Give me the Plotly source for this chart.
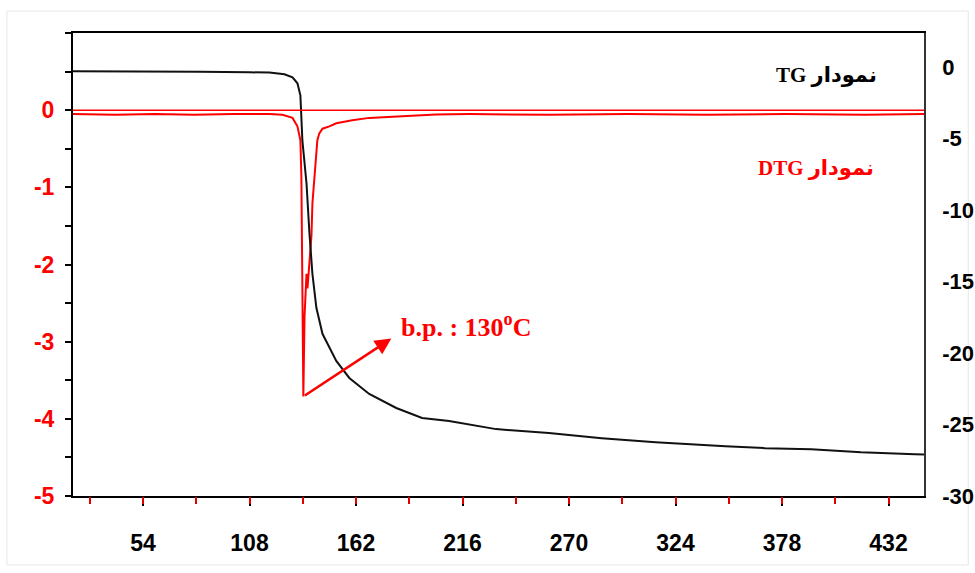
import plotly.graph_objects as go

# ---------------- data ----------------
# TG curve (mass change, right axis)
tg_temp = [18.5, 57.4, 82.7, 108.0, 118.1, 125.7, 129.8, 132.3, 133.8, 134.8, 136.9,
           138.4, 139.9, 141.9, 145.0, 152.0, 158.6, 168.7, 182.4, 195.5, 209.2,
           233.0, 259.8, 286.6, 313.9, 349.3, 369.5, 392.8, 418.1, 445.4, 450.0]
tg_val = [-0.28, -0.28, -0.32, -0.35, -0.37, -0.49, -0.70, -1.12, -1.96, -5.12, -8.13,
          -11.64, -14.45, -16.83, -18.65, -20.55, -21.74, -22.86, -23.84, -24.54, -24.75,
          -25.32, -25.60, -25.95, -26.23, -26.51, -26.65, -26.72, -26.93, -27.07, -27.10]

# DTG curve (left axis)
dtg_temp = [18.5, 40, 60, 80, 100, 118.1, 124.7, 129.8, 132.3, 133.8, 134.3, 134.5,
            134.8, 135.0, 135.3, 135.9, 136.4, 136.9, 137.4, 138.4, 139.4, 139.9,
            140.9, 141.9, 142.4, 143.4, 145.0, 148.5, 152.0, 160.1, 168.7, 185.4,
            202.6, 219.3, 260, 300, 340, 380, 420, 450]
dtg_val = [-0.05, -0.06, -0.05, -0.06, -0.05, -0.05, -0.06, -0.10, -0.21, -0.39, -0.86, -1.73,
           -2.67, -3.45, -3.71, -2.67, -2.37, -2.12, -2.31, -1.95, -1.63, -1.21,
           -0.86, -0.56, -0.39, -0.30, -0.24, -0.21, -0.17, -0.13, -0.10, -0.08,
           -0.055, -0.05, -0.06, -0.05, -0.06, -0.05, -0.06, -0.05]

# straight reference line of DTG
base_temp = [18.5, 450.0]
base_val = [0.0, 0.0]

x_major = [54, 108, 162, 216, 270, 324, 378, 432]
left_ticks = [0, -1, -2, -3, -4, -5]
left_text = ["0", "-1", "-2", "-3", "-4", "-5"]
right_ticks = [0, -5, -10, -15, -20, -25, -30]
right_text = ["0", "-5", "-10", "-15", "-20", "-25", "-30"]

bp_label = "b.p. : 130<sup>o</sup>C"
tg_label = "<b>TG نمودار</b>"
dtg_label = "<b>DTG نمودار</b>"

# ---------------- figure ----------------
fig = go.Figure()
fig.add_trace(go.Scatter(x=dtg_temp, y=dtg_val, mode="lines", xaxis="x", yaxis="y",
                         line=dict(color="#ff0000", width=2), showlegend=False))
fig.add_trace(go.Scatter(x=base_temp, y=base_val, mode="lines", xaxis="x2", yaxis="y3",
                         line=dict(color="#ff0000", width=1.5), showlegend=False))
fig.add_trace(go.Scatter(x=tg_temp, y=tg_val, mode="lines", xaxis="x", yaxis="y2",
                         line=dict(color="#111111", width=2), showlegend=False))

lab_font = dict(family="Liberation Sans, Arial", size=23, weight="bold")
right_font = dict(family="Liberation Sans, Arial", size=22, weight="bold")
x_common = dict(range=[18.5, 450], showgrid=False, zeroline=False, automargin=False)
y_common = dict(range=[-5, 1], showgrid=False, zeroline=False, automargin=False)

fig.update_layout(
    width=975, height=573,
    margin=dict(l=73, r=51, t=33, b=77),
    paper_bgcolor="white", plot_bgcolor="white",
    # main x axis: frame line + black ticks at the labelled values (as minor ticks)
    xaxis=dict(**x_common, tickmode="linear", tick0=27, dtick=54, ticks="",
               showticklabels=False,
               showline=True, linecolor="black", linewidth=2, mirror=True,
               minor=dict(tick0=0, dtick=27, ticks="outside", ticklen=8,
                          tickcolor="black", tickwidth=1.5, showgrid=False)),
    # label axis + red intermediate ticks
    xaxis2=dict(**x_common, overlaying="x", side="bottom", anchor="y",
                tickmode="array", tickvals=x_major,
                ticks="outside", ticklen=26, tickcolor="rgba(0,0,0,0)", showline=False,
                tickfont=dict(color="black", **lab_font),
                minor=dict(tick0=0, dtick=27, ticks="outside", ticklen=7,
                           tickcolor="#e00000", tickwidth=1.5, showgrid=False)),
    # left axis: labels + half-unit ticks
    yaxis=dict(**y_common, tickmode="array", tickvals=left_ticks, ticktext=left_text,
               ticks="", showline=True, linecolor="black", linewidth=2,
               tickfont=dict(color="#ff0000", **lab_font), ticklabelstandoff=12,
               minor=dict(dtick=0.5, tick0=0, ticks="outside", ticklen=6,
                          tickcolor="black", tickwidth=1.5, showgrid=False)),
    # left axis helper: ticks at the whole units
    yaxis3=dict(**y_common, overlaying="y", side="left", anchor="x",
                tickmode="array", tickvals=[0.25], ticks="", showticklabels=False,
                showline=False,
                minor=dict(dtick=1, tick0=0, ticks="outside", ticklen=6,
                           tickcolor="black", tickwidth=1.5, showgrid=False)),
    yaxis2=dict(range=[-30, 2.4], tickmode="array", tickvals=right_ticks, ticktext=right_text,
                overlaying="y", side="right", automargin=False,
                ticks="", showgrid=False, zeroline=False,
                showline=True, linecolor="#333333", linewidth=1.5,
                tickfont=dict(color="black", **right_font), ticklabelstandoff=12),
)

# arrow pointing from the DTG minimum
i_min = dtg_val.index(min(dtg_val))
fig.add_annotation(x=179.9, y=-2.96, xref="x", yref="y",
                   ax=dtg_temp[i_min], ay=dtg_val[i_min], axref="x", ayref="y",
                   text="", showarrow=True, arrowhead=2, arrowsize=1.3,
                   arrowwidth=2.5, arrowcolor="#ff0000")
fig.add_annotation(x=183.9, y=-2.79, xref="x", yref="y", text="<b>" + bp_label + "</b>",
                   showarrow=False, xanchor="left", yanchor="middle",
                   font=dict(family="Liberation Serif", size=26, color="#ff0000"))
fig.add_annotation(x=400.4, y=0.455, xref="x", yref="y", text=tg_label,
                   showarrow=False, xanchor="center", yanchor="middle",
                   font=dict(family="Liberation Serif, DejaVu Sans", size=21, color="black"))
fig.add_annotation(x=395.3, y=-0.75, xref="x", yref="y", text=dtg_label,
                   showarrow=False, xanchor="center", yanchor="middle",
                   font=dict(family="Liberation Serif, DejaVu Sans", size=21, color="#ff0000"))

# faint outer frame of the picture
fig.add_shape(type="rect", xref="paper", yref="paper",
              x0=-0.0776, x1=1.052, y0=-0.149, y1=1.0475,
              line=dict(color="#e6e6e6", width=1), layer="below")

fig.write_html("out.html")
